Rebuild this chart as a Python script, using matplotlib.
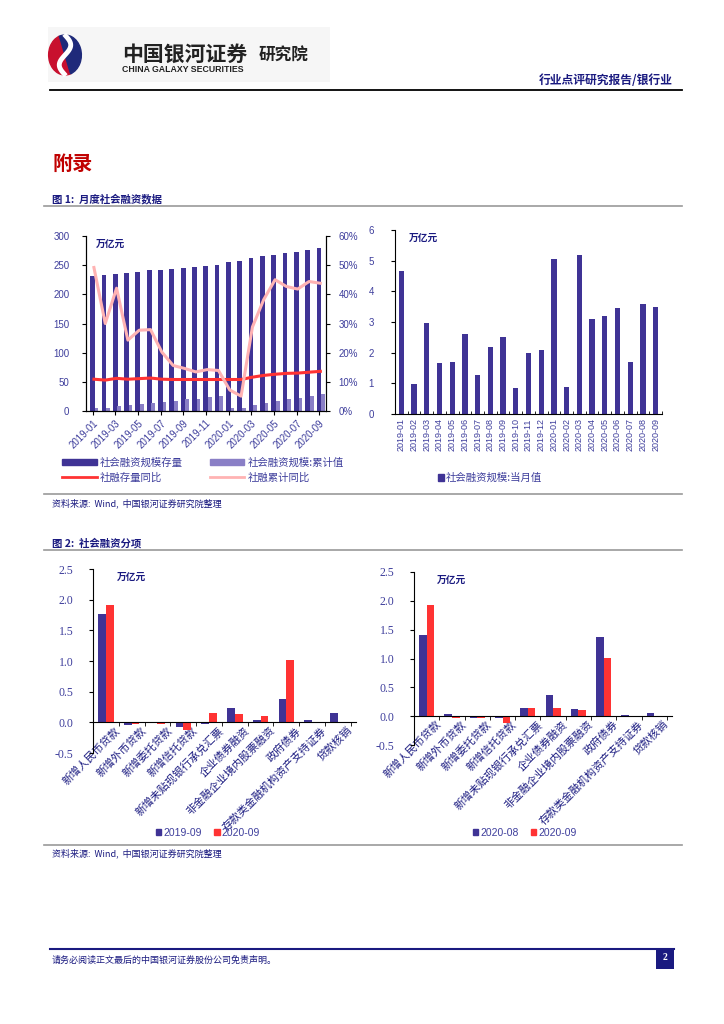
# 社会融资数据 page recreation
import matplotlib
matplotlib.use('Agg')
import matplotlib.pyplot as plt
import numpy as np
from matplotlib.patches import Rectangle, Wedge, Patch
from matplotlib.lines import Line2D

plt.rcParams['font.family'] = ['Noto Sans CJK SC', 'DejaVu Sans']
plt.rcParams['axes.unicode_minus'] = False

# ---- data ----
months = ['2019-01', '2019-02', '2019-03', '2019-04', '2019-05', '2019-06', '2019-07',
          '2019-08', '2019-09', '2019-10', '2019-11', '2019-12', '2020-01', '2020-02',
          '2020-03', '2020-04', '2020-05', '2020-06', '2020-07', '2020-08', '2020-09']
stock = [232, 233, 235, 237, 239, 241, 242, 244, 246, 247, 249, 251, 256, 257,
         262, 265, 268, 271, 273, 276, 280]                     # 社会融资规模存量
cum = [4.6, 5.6, 8.2, 10.0, 11.7, 14.3, 15.6, 17.8, 20.3, 21.2, 23.2, 25.6,
       5.1, 5.9, 11.1, 14.2, 17.4, 20.8, 22.5, 26.1, 29.6]      # 社会融资规模:累计值
stock_yoy = [10.9, 10.6, 11.2, 10.9, 11.1, 11.3, 10.9, 10.8, 10.8, 10.8, 10.8, 10.8,
             10.8, 10.8, 11.6, 12.2, 12.6, 12.9, 13.0, 13.3, 13.6]  # 社融存量同比 %
cum_yoy = [49.2, 30.0, 42.1, 24.3, 27.7, 27.9, 20.2, 15.6, 14.6, 13.4, 14.2, 13.9,
           7.2, 5.1, 28.8, 38.2, 45.0, 42.7, 41.8, 44.4, 43.8]      # 社融累计同比 %
monthly = [4.67, 0.97, 2.96, 1.66, 1.70, 2.62, 1.28, 2.19, 2.52, 0.86, 1.98, 2.09,
           5.05, 0.87, 5.19, 3.10, 3.18, 3.46, 1.69, 3.58, 3.48]    # 当月值

items = ['新增人民币贷款', '新增外币贷款', '新增委托贷款', '新增信托贷款',
         '新增未贴现银行承兑汇票', '企业债券融资', '非金融企业境内股票融资',
         '政府债券', '存款类金融机构资产支持证券', '贷款核销']
y2019_09 = [1.76, -0.04, -0.01, -0.07, -0.03, 0.24, 0.03, 0.38, 0.03, 0.16]
y2020_08 = [1.41, 0.03, -0.04, -0.03, 0.14, 0.36, 0.12, 1.38, 0.02, 0.06]
y2020_09 = [1.92, -0.03, -0.03, -0.12, 0.15, 0.14, 0.11, 1.01, 0.0, 0.0]

NAVY = '#3F3395'
LIGHT = '#8A7FC6'
RED = '#FF3333'
PINK = '#FFB3B3'
TXT = '#3E3E9C'
HEAD = '#1A1A80'

W, H = 724, 1024
fig = plt.figure(figsize=(W / 100, H / 100), dpi=100)


def fx(x):
    return x / W


def fy(y):
    return 1 - y / H


def ax_px(l, t, r, b):
    return fig.add_axes([fx(l), fy(b), (r - l) / W, (b - t) / H])


def hline(y, x0, x1, color, lw):
    fig.add_artist(Line2D([fx(x0), fx(x1)], [fy(y), fy(y)], color=color, lw=lw))


# ---- page header ----
fig.add_artist(Rectangle((fx(48), fy(82)), (330 - 48) / W, 55 / H, color='#F6F6F6', lw=0,
                         zorder=-5))
lg = ax_px(47, 33, 83, 77)
lg.set_xlim(-1.1, 1.1)
lg.set_ylim(-1.1, 1.1)
lg.axis('off')
lg.patch.set_alpha(0)
lg.add_patch(Wedge((0, 0), 1.0, 110, 290, color='#C8102E'))
lg.add_patch(Wedge((0, 0), 1.0, -70, 110, color='#1F2A7A'))
tt = np.linspace(-1, 1, 50)
lg.plot(0.35 * np.sin(tt * 3.0), tt * 0.95, color='white', lw=3.5)
fig.text(fx(122), fy(54), '中国银河证券', fontsize=15, fontweight='bold', color='#222222', va='center')
fig.text(fx(122), fy(69), 'CHINA GALAXY SECURITIES', fontsize=6.3, fontweight='bold',
         color='#222222', va='center', family='Liberation Sans')
fig.text(fx(259), fy(56), '研究院', fontsize=12, fontweight='bold', color='#222222', va='center')
fig.text(fx(673), fy(81), '行业点评研究报告/银行业', fontsize=8.5, fontweight='bold', color=HEAD,
         va='center', ha='right')
hline(90, 50, 682, 'black', 1.3)

fig.text(fx(52), fy(163), '附录', fontsize=14.5, fontweight='bold', color='#C00000', va='center')
fig.text(fx(52), fy(199), '图 1:  月度社会融资数据', fontsize=7.5, fontweight='bold', color=HEAD, va='center')
hline(206, 44, 682, '#999999', 1.2)
hline(494, 44, 682, '#999999', 1.2)
fig.text(fx(52), fy(503), '资料来源:  Wind,  中国银河证券研究院整理', fontsize=6.5, color=HEAD,
         va='center', style='italic')
fig.text(fx(52), fy(543), '图 2:  社会融资分项', fontsize=7.5, fontweight='bold', color=HEAD, va='center')
hline(550, 44, 682, '#999999', 1.2)
hline(845, 44, 682, '#999999', 1.2)
fig.text(fx(52), fy(853), '资料来源:  Wind,  中国银河证券研究院整理', fontsize=6.5, color=HEAD,
         va='center', style='italic')

hline(949, 50, 674, HEAD, 1.5)
fig.text(fx(52), fy(960), '请务必阅读正文最后的中国银河证券股份公司免责声明。', fontsize=6.5,
         color=HEAD, va='center')
fig.add_artist(Rectangle((fx(656), fy(969)), 18 / W, 21 / H, color='#1A1A80', lw=0))
fig.text(fx(665), fy(958), '2', fontsize=7, color='white', ha='center', va='center',
         fontweight='bold', family='Liberation Serif')

# ---- chart 1: 存量 + 累计值 + 同比 ----
x = np.arange(len(months))
ax1 = ax_px(86, 236, 326, 411)
ax1.bar(x - 0.02, stock, width=0.42, color=NAVY, zorder=2)
ax1.bar(x + 0.34, cum, width=0.32, color=LIGHT, zorder=2)
ax1.set_ylim(0, 300)
ax1.set_yticks(range(0, 301, 50))
ax1.set_xlim(-0.6, 20.6)
ax1.set_xticks(x[::2])
ax1.set_xticklabels(months[::2], rotation=45, ha='right', rotation_mode='anchor',
                    family='Liberation Sans', fontsize=7, color=TXT)
ax1r = ax1.twinx()
ax1r.plot(x + 0.1, stock_yoy, color=RED, lw=2.2)
ax1r.plot(x + 0.1, cum_yoy, color=PINK, lw=2.2)
ax1r.set_ylim(0, 60)
ax1r.set_yticks(range(0, 61, 10))
ax1r.set_yticklabels([f'{v}%' for v in range(0, 61, 10)], family='Liberation Sans',
                     fontsize=7, color=TXT)
for lab in ax1.get_yticklabels():
    lab.set_family('Liberation Sans')
    lab.set_fontsize(7)
    lab.set_color(TXT)
for a in (ax1, ax1r):
    a.spines['top'].set_visible(False)
    a.tick_params(length=3, width=0.8, pad=2)
ax1.tick_params(axis='y', pad=9)
ax1r.tick_params(axis='y', pad=6)
ax1.text(0.04, 0.985, '万亿元', transform=ax1.transAxes, fontsize=7, fontweight='bold',
         color=HEAD, va='top')

# legend fills column-wise: 存量 / 同比 in first column, 累计值 / 累计同比 in second
h1 = [Patch(color=NAVY), Line2D([], [], color=RED, lw=2),
      Patch(color=LIGHT), Line2D([], [], color=PINK, lw=2)]
l1 = ['社会融资规模存量', '社融存量同比', '社会融资规模:累计值', '社融累计同比']
fig.legend(h1, l1, ncol=2,
           loc='upper left', bbox_to_anchor=(fx(57), fy(452)), frameon=False, fontsize=7.5,
           labelcolor=TXT, handlelength=3.3, handleheight=0.45, handletextpad=0.3,
           columnspacing=2.6, labelspacing=0.45, borderpad=0)

# ---- chart 2: 当月值 ----
ax2 = ax_px(395, 230, 662, 414)
ax2.bar(x, monthly, width=0.42, color=NAVY, zorder=2)
ax2.set_xlim(-0.5, 20.5)
ax2.set_ylim(0, 6)
ax2.set_yticks(range(0, 7))
ax2.set_xticks(x)
ax2.set_xticklabels(months, rotation=90, family='Liberation Sans', fontsize=6.5, color=TXT)
ax2.set_xticks(np.arange(-0.5, 21, 1), minor=True)
ax2.tick_params(axis='x', which='major', length=0, pad=3)
ax2.tick_params(axis='x', which='minor', length=2, direction='in')
ax2.tick_params(axis='y', length=3, pad=12)
for lab in ax2.get_yticklabels():
    lab.set_family('Liberation Sans')
    lab.set_fontsize(7)
    lab.set_color(TXT)
for s in ('top', 'right'):
    ax2.spines[s].set_visible(False)
ax2.text(0.05, 0.985, '万亿元', transform=ax2.transAxes, fontsize=7, fontweight='bold',
         color=HEAD, va='top')
ax2.legend([Patch(color=NAVY)], ['社会融资规模:当月值'], loc='center',
           bbox_to_anchor=(fx(490), fy(478)), bbox_transform=fig.transFigure, frameon=False,
           fontsize=7.5, labelcolor=TXT, handlelength=0.55, handleheight=0.55,
           handletextpad=0.2, borderpad=0)


# ---- charts 3/4: 分项 ----
def split_chart(box, blue, red, labels_leg, leg_x):
    ax = ax_px(*box)
    xi = np.arange(len(items))
    ax.bar(xi - 0.15, blue, width=0.3, color=NAVY, zorder=2)
    ax.bar(xi + 0.15, red, width=0.3, color=RED, zorder=2)
    ax.set_xlim(-0.5, 9.7)
    ax.set_ylim(-0.5, 2.5)
    ax.set_yticks(np.arange(-0.5, 2.51, 0.5))
    ax.set_yticklabels([f'{v:.1f}' for v in np.arange(-0.5, 2.51, 0.5)],
                       family='Liberation Serif', fontsize=8.5, color=TXT)
    ax.spines['bottom'].set_position(('data', 0))
    for s in ('top', 'right'):
        ax.spines[s].set_visible(False)
    ax.set_xticks(xi + 0.35)
    ax.set_xticklabels(items, rotation=45, ha='right', rotation_mode='anchor',
                       fontsize=7.8, color=HEAD)
    ax.set_xticks(np.arange(0.5, 10, 1), minor=True)
    ax.tick_params(axis='x', which='major', length=0, pad=2)
    ax.tick_params(axis='x', which='minor', length=3, direction='out')
    ax.tick_params(axis='y', length=3, pad=11)
    ax.text(0.09, 0.985, '万亿元', transform=ax.transAxes, fontsize=7, fontweight='bold',
            color=HEAD, va='top')
    leg = ax.legend([Patch(color=NAVY), Patch(color=RED)], labels_leg, loc='center', ncol=2,
                    bbox_to_anchor=(fx(leg_x), fy(833)), bbox_transform=fig.transFigure,
                    frameon=False, fontsize=7.5, handlelength=0.5, handleheight=0.5,
                    handletextpad=0.2, columnspacing=1.2, borderpad=0, labelcolor=TXT)
    for t in leg.get_texts():
        t.set_family('Liberation Sans')
    return ax


split_chart((93, 569, 356, 753), y2019_09, y2020_09, ['2019-09', '2020-09'], 208)
split_chart((414, 572, 672, 745), y2020_08, y2020_09, ['2020-08', '2020-09'], 525)

fig.savefig('out.png', dpi=100)
